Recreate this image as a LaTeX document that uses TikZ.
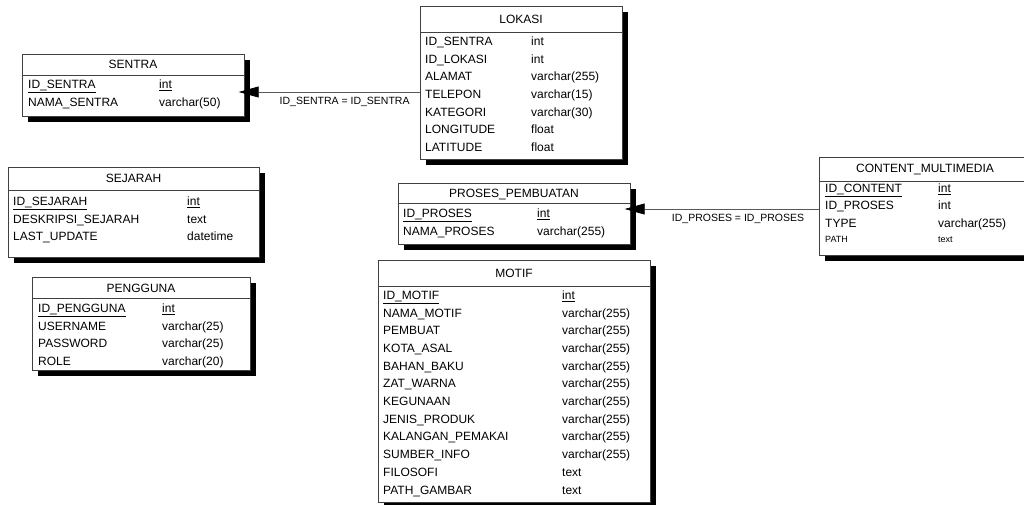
\documentclass[tikz,border=0pt]{standalone}
\usepackage{fontspec}
\setmainfont{Liberation Sans}
\usetikzlibrary{arrows.meta, positioning, shadows}

\begin{document}
\begin{tikzpicture}[x=1pt, y=-1pt,
    table/.style={rectangle, draw=black!75, line width=0.7pt, fill=white, anchor=north west, inner sep=0pt,
        drop shadow={shadow xshift=6pt, shadow yshift=-6pt, opacity=1, fill=black}},
    title/.style={font=\fontsize{12}{14}\selectfont, inner sep=0pt, text height=8.6pt, text depth=0pt},
    field/.style={font=\fontsize{12}{14}\selectfont, anchor=west, inner sep=0pt, text height=8.6pt, text depth=0pt},
    small/.style={font=\fontsize{9}{10}\selectfont, anchor=west, inner sep=0pt, text height=6.5pt, text depth=0pt},
    rule/.style={draw=black!75, line width=0.7pt},
    fk/.style={draw=black!65, line width=0.7pt, -{Triangle[length=20pt, width=11pt, fill=black, color=black]}, shorten >=-6pt},
    fklabel/.style={font=\fontsize{10.5}{12}\selectfont, inner sep=0pt, anchor=north, yshift=-5pt}
]
\useasboundingbox (0,0) rectangle (1024,504);
\clip (0,0) rectangle (1024,504);

% SENTRA
\node[table, minimum width=222pt, minimum height=62pt] (sentra) at (22,54) {};
\node[title] (sentra-t) at (133,64.5) {SENTRA};
\draw[rule] (sentra.west |- 0,75) -- (sentra.east |- 0,75);
\foreach \n/\t [count=\i] in {{\underline{ID\_SENTRA}}/{\underline{int}}, NAMA\_SENTRA/varchar(50)} {
    \node[field] (sentra-n\i) at (28,{84.5+17.7*(\i-1)}) {\n};
    \node[field] (sentra-d\i) at (159,{84.5+17.7*(\i-1)}) {\t};
}

% LOKASI
\node[table, minimum width=202pt, minimum height=153pt] (lokasi) at (420,6) {};
\node[title] (lokasi-t) at (521,19) {LOKASI};
\draw[rule] (lokasi.west |- 0,32) -- (lokasi.east |- 0,32);
\foreach \n/\t [count=\i] in {ID\_SENTRA/int, ID\_LOKASI/int, ALAMAT/varchar(255), TELEPON/varchar(15),
        KATEGORI/varchar(30), LONGITUDE/float, LATITUDE/float} {
    \node[field] (lokasi-n\i) at (425,{41+17.7*(\i-1)}) {\n};
    \node[field] (lokasi-d\i) at (531,{41+17.7*(\i-1)}) {\t};
}

% SEJARAH
\node[table, minimum width=251pt, minimum height=90pt] (sejarah) at (8,167) {};
\node[title] (sejarah-t) at (133.5,178.5) {SEJARAH};
\draw[rule] (sejarah.west |- 0,190) -- (sejarah.east |- 0,190);
\foreach \n/\t [count=\i] in {{\underline{ID\_SEJARAH}}/{\underline{int}}, DESKRIPSI\_SEJARAH/text, LAST\_UPDATE/datetime} {
    \node[field] (sejarah-n\i) at (13,{201+17.7*(\i-1)}) {\n};
    \node[field] (sejarah-d\i) at (187,{201+17.7*(\i-1)}) {\t};
}

% PENGGUNA
\node[table, minimum width=218pt, minimum height=93pt] (pengguna) at (32,277) {};
\node[title] (pengguna-t) at (141,288) {PENGGUNA};
\draw[rule] (pengguna.west |- 0,298) -- (pengguna.east |- 0,298);
\foreach \n/\t [count=\i] in {{\underline{ID\_PENGGUNA}}/{\underline{int}}, USERNAME/varchar(25),
        PASSWORD/varchar(25), ROLE/varchar(20)} {
    \node[field] (pengguna-n\i) at (38,{308+17.7*(\i-1)}) {\n};
    \node[field] (pengguna-d\i) at (162,{308+17.7*(\i-1)}) {\t};
}

% PROSES_PEMBUATAN
\node[table, minimum width=232pt, minimum height=61pt] (proses) at (398,183) {};
\node[title] (proses-t) at (514,193) {PROSES\_PEMBUATAN};
\draw[rule] (proses.west |- 0,203) -- (proses.east |- 0,203);
\foreach \n/\t [count=\i] in {{\underline{ID\_PROSES}}/{\underline{int}}, NAMA\_PROSES/varchar(255)} {
    \node[field] (proses-n\i) at (403,{213+18*(\i-1)}) {\n};
    \node[field] (proses-d\i) at (537,{213+18*(\i-1)}) {\t};
}

% CONTENT_MULTIMEDIA (runs off the right edge)
\node[table, minimum width=212pt, minimum height=98pt] (content) at (819,157) {};
\node[title] (content-t) at (925,168.5) {CONTENT\_MULTIMEDIA};
\draw[rule] (content.west |- 0,181) -- (content.east |- 0,181);
\foreach \n/\t [count=\i] in {{\underline{ID\_CONTENT}}/{\underline{int}}, ID\_PROSES/int, TYPE/varchar(255)} {
    \node[field] (content-n\i) at (825,{188+17.6*(\i-1)}) {\n};
    \node[field] (content-d\i) at (938,{188+17.6*(\i-1)}) {\t};
}
\node[small] (content-n4) at (825,239.5) {PATH};
\node[small] (content-d4) at (938,239.5) {text};

% MOTIF (runs off the bottom edge)
\node[table, minimum width=272pt, minimum height=242pt] (motif) at (378,260) {};
\node[title] (motif-t) at (514,273) {MOTIF};
\draw[rule] (motif.west |- 0,286) -- (motif.east |- 0,286);
\foreach \n/\t [count=\i] in {{\underline{ID\_MOTIF}}/{\underline{int}}, NAMA\_MOTIF/varchar(255), PEMBUAT/varchar(255),
        KOTA\_ASAL/varchar(255), BAHAN\_BAKU/varchar(255), ZAT\_WARNA/varchar(255), KEGUNAAN/varchar(255),
        JENIS\_PRODUK/varchar(255), KALANGAN\_PEMAKAI/varchar(255), SUMBER\_INFO/varchar(255),
        FILOSOFI/text, PATH\_GAMBAR/text} {
    \node[field] (motif-n\i) at (383,{295+17.7*(\i-1)}) {\n};
    \node[field] (motif-d\i) at (562,{295+17.7*(\i-1)}) {\t};
}

% Relations
\draw[fk] (lokasi.west |- 0,92) -- node[fklabel, pos=0.43] (rel1) {ID\_SENTRA = ID\_SENTRA} (sentra.east |- 0,92);
\draw[fk] (content.west |- 0,209) -- node[fklabel, pos=0.43] (rel2) {ID\_PROSES = ID\_PROSES} (proses.east |- 0,209);

\end{tikzpicture}
\end{document}
